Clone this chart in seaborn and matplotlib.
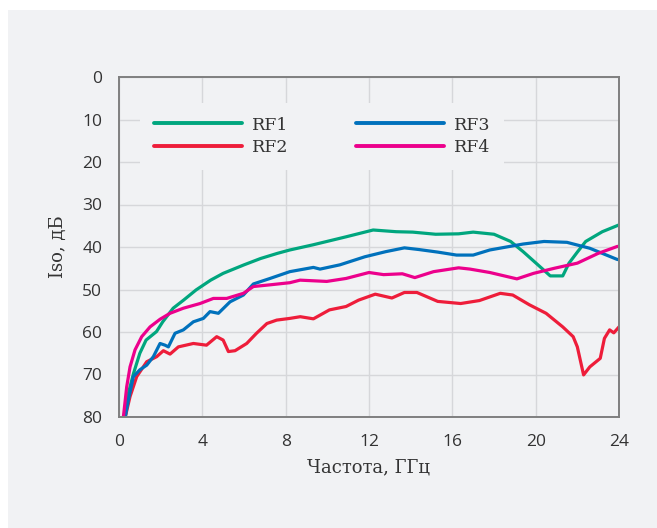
import numpy as np
import pandas as pd
import matplotlib
matplotlib.use('Agg')
import matplotlib.pyplot as plt
import seaborn as sns

# Данные: частота, ГГц -> развязка, дБ
rf1_x = [0.3, 0.45, 0.7, 1.0, 1.3, 1.8, 2.1, 2.6, 3.1, 3.7, 4.4, 5.0, 6.0, 6.8, 7.6, 8.2,
         9.3, 10.9, 12.2, 13.3, 14.1, 15.2, 16.3, 17.0, 18.0, 18.8, 19.4, 20.2, 20.7,
         21.3, 21.6, 22.0, 22.4, 23.2, 24.0]
rf1_y = [80, 74.4, 69.7, 65, 61.9, 59.9, 57.6, 54.4, 52.5, 50.1, 47.8, 46.2, 44.2, 42.7, 41.5, 40.7,
         39.5, 37.6, 36, 36.4, 36.5, 37, 36.9, 36.5, 37, 38.7, 41.1, 44.6, 46.8,
         46.8, 43.8, 41.2, 38.7, 36.4, 34.8]

rf2_x = [0.3, 0.53, 0.85, 1.33, 1.81, 2.13, 2.45, 2.85, 3.57, 4.2, 4.69, 5.0, 5.25, 5.57,
         6.13, 6.6, 7.1, 7.57, 8.2, 8.7, 9.33, 10.1, 10.9, 11.5, 12.3, 13.1, 13.7, 14.3,
         15.3, 16.4, 17.3, 18.3, 18.9, 19.7, 20.5, 21.3, 21.8, 22.0, 22.3, 22.6, 22.9,
         23.1, 23.3, 23.55, 23.75, 24.0]
rf2_y = [80, 75.2, 70.5, 67, 65.8, 64.4, 65.2, 63.5, 62.7, 63.1, 61.1, 61.9, 64.6, 64.4,
         62.7, 60.3, 58, 57.2, 56.8, 56.4, 56.9, 54.8, 54, 52.5, 51.1, 52, 50.7, 50.7,
         52.8, 53.3, 52.6, 50.9, 51.3, 53.6, 55.6, 58.8, 61.1, 63.5, 70.1, 68.2, 67,
         66.2, 61.5, 59.5, 60.2, 58.8]

rf3_x = [0.3, 0.45, 0.69, 1.0, 1.33, 1.65, 1.97, 2.21, 2.37, 2.69, 3.09, 3.57, 4.05, 4.37,
         4.77, 5.33, 5.97, 6.45, 7.25, 8.2, 9.33, 9.65, 10.6, 11.8, 12.8, 13.7, 14.4,
         15.3, 16.2, 17.0, 17.8, 18.6, 19.4, 20.4, 21.5, 22.6, 23.9, 24.0]
rf3_y = [80, 76, 70.5, 68.9, 67.8, 65.8, 62.7, 63.1, 63.5, 60.3, 59.5, 57.6, 56.8, 55.2,
         55.6, 52.9, 51.3, 48.7, 47.4, 45.8, 44.8, 45.2, 44.2, 42.3, 41.1, 40.2, 40.6,
         41.2, 41.9, 41.9, 40.7, 40, 39.3, 38.7, 38.9, 40.3, 42.9, 43]

rf4_x = [0.21, 0.37, 0.53, 0.77, 1.09, 1.49, 1.97, 2.45, 3.09, 3.89, 4.53, 5.17, 5.97, 6.45,
         7.25, 8.2, 8.69, 9.97, 10.9, 12.0, 12.7, 13.6, 14.2, 15.1, 16.3, 16.85, 17.8,
         19.1, 19.9, 20.9, 22.0, 23.0, 23.9, 24.0]
rf4_y = [80, 72.9, 68.2, 64.2, 61.1, 58.8, 57, 55.6, 54.4, 53.3, 52.1, 52.1, 50.9, 49.3,
         48.9, 48.4, 47.8, 48.1, 47.4, 46, 46.5, 46.3, 47.2, 45.8, 44.9, 45.2, 46,
         47.5, 46.2, 45, 43.8, 41.5, 39.9, 39.8]

names = ['RF1', 'RF2', 'RF3', 'RF4']
colors = {'RF1': '#00a67e', 'RF2': '#ee1d3a', 'RF3': '#0071bc', 'RF4': '#ec008c'}
x_ticks = [0, 4, 8, 12, 16, 20, 24]
y_ticks = [0, 10, 20, 30, 40, 50, 60, 70, 80]

frames = []
for n, xs, ys in zip(names, [rf1_x, rf2_x, rf3_x, rf4_x], [rf1_y, rf2_y, rf3_y, rf4_y]):
    frames.append(pd.DataFrame({'f': xs, 'iso': ys, 'port': n}))
df = pd.concat(frames, ignore_index=True)

bg = '#f1f2f4'
txt = '#333333'
sns.set_style('white')
plt.rcParams['font.family'] = ['Open Sans', 'DejaVu Sans']

fig = plt.figure(figsize=(6.57, 5.28), dpi=100, facecolor='white')
fig.patches.append(plt.Rectangle((8 / 657, 0), 1, 1 - 10 / 528, transform=fig.transFigure,
                                 facecolor=bg, edgecolor='none', zorder=-10))
ax = fig.add_axes([119 / 657, 1 - 417 / 528, 500 / 657, 340 / 528])
ax.set_facecolor(bg)

sns.lineplot(data=df, x='f', y='iso', hue='port', hue_order=names, palette=colors,
             linewidth=2.3, ax=ax, estimator=None, sort=False)

ax.set_xlim(0, 24)
ax.set_ylim(80, 0)
ax.set_xticks(x_ticks)
ax.set_yticks(y_ticks)
ax.grid(True, color='#d6d7da', linewidth=1.0)
ax.set_axisbelow(True)
for s in ax.spines.values():
    s.set_color('#7f7f7f')
    s.set_linewidth(1.4)
ax.tick_params(axis='both', length=0, labelsize=12.5, colors=txt, pad=12)

serif = ['DejaVu Serif']
ax.set_xlabel('Частота, ГГц', family=serif, fontsize=13, color=txt, labelpad=6)
ax.set_ylabel('Iso, дБ', family=serif, fontsize=13, color=txt, labelpad=11)

leg = ax.legend(loc='upper left', bbox_to_anchor=(0.024, 0.95), ncol=2,
                handlelength=5.1, handletextpad=0.55, columnspacing=3.9,
                labelspacing=0.3, borderpad=0.8, frameon=True, fancybox=False,
                prop={'family': serif, 'size': 12.5})
leg.get_frame().set_facecolor(bg)
leg.get_frame().set_edgecolor('none')
leg.get_frame().set_alpha(1)
for t in leg.get_texts():
    t.set_color(txt)
for h in leg.get_lines():
    h.set_linewidth(2.8)

fig.savefig('out.png', dpi=100, facecolor='white')
